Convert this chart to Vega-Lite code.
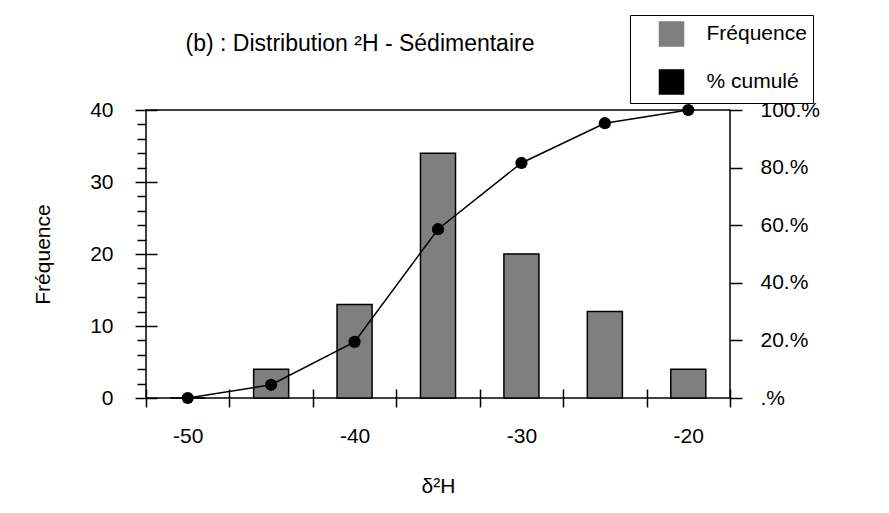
{
  "$schema": "https://vega.github.io/schema/vega-lite/v6.json",
  "width": 584,
  "height": 288,
  "autosize": {"type": "none"},
  "padding": {"left": 146, "top": 110, "right": 159, "bottom": 115},
  "background": "white",
  "config": {
    "font": "Liberation Sans",
    "view": {"stroke": "black", "strokeWidth": 1.5},
    "axis": {
      "labelFontSize": 21,
      "titleFontSize": 21,
      "titleFontWeight": "normal",
      "labelColor": "black",
      "titleColor": "black",
      "tickColor": "black",
      "tickWidth": 1.5,
      "grid": false,
      "domain": false,
      "labelFont": "Liberation Sans",
      "titleFont": "Liberation Sans"
    },
    "legend": {
      "labelFont": "Liberation Sans"
    }
  },
  "title": {
    "text": "(b) : Distribution ²H - Sédimentaire",
    "anchor": "middle",
    "frame": "group",
    "dx": -78,
    "offset": 0,
    "dy": 41,
    "fontSize": 23,
    "fontWeight": "normal",
    "font": "Liberation Sans",
    "color": "black"
  },
  "data": {
    "values": [
      {"bin": -50, "freq": 0, "cum": 0},
      {"bin": -45, "freq": 4, "cum": 0.046},
      {"bin": -40, "freq": 13, "cum": 0.195},
      {"bin": -35, "freq": 34, "cum": 0.586},
      {"bin": -30, "freq": 20, "cum": 0.816},
      {"bin": -25, "freq": 12, "cum": 0.954},
      {"bin": -20, "freq": 4, "cum": 1.0}
    ]
  },
  "encoding": {
    "x": {
      "field": "bin",
      "type": "ordinal",
      "sort": "ascending",
      "scale": {"paddingInner": 0, "paddingOuter": 0},
      "axis": {
        "title": "δ²H",
        "labelAngle": 0,
        "tickBand": "extent",
        "offset": -9,
        "tickSize": 18,
        "labelExpr": "datum.value % 10 === 0 ? datum.label : ''",
        "labelPadding": 18,
        "titlePadding": 29
      }
    }
  },
  "layer": [
    {
      "mark": {"type": "bar", "stroke": "black", "strokeWidth": 1.5, "width": {"band": 0.42}},
      "encoding": {
        "y": {
          "field": "freq",
          "type": "quantitative",
          "scale": {"domain": [0, 40]},
          "axis": {
            "title": "Fréquence",
            "values": [0, 2, 4, 6, 8, 10, 12, 14, 16, 18, 20, 22, 24, 26, 28, 30, 32, 34, 36, 38, 40],
            "offset": -11,
            "tickSize": 22,
            "labelOverlap": false,
            "labelExpr": "datum.value % 10 === 0 ? datum.label : ''",
            "tickDash": {"condition": {"test": "datum.value % 10 !== 0", "value": [0, 11, 9, 100]}, "value": []},
            "labelPadding": 22,
            "titlePadding": 36
          }
        },
        "color": {
          "datum": "Fréquence",
          "type": "nominal",
          "scale": {"domain": ["Fréquence", "% cumulé"], "range": ["#7f7f7f", "black"]},
          "legend": {
            "title": null,
            "orient": "none",
            "legendX": 484,
            "legendY": -95,
            "strokeColor": "black",
            "fillColor": "white",
            "padding": 6,
            "symbolSize": 576,
            "rowPadding": 18,
            "labelOffset": 22,
            "symbolOffset": 22.5,
            "labelFontSize": 21,
            "labelColor": "black",
            "symbolStrokeColor": "black",
            "symbolStrokeWidth": 1.5
          }
        }
      }
    },
    {
      "mark": {"type": "line", "strokeWidth": 1.5, "point": {"filled": true, "size": 150}},
      "encoding": {
        "y": {
          "field": "cum",
          "type": "quantitative",
          "scale": {"domain": [0, 1]},
          "axis": {
            "orient": "right",
            "title": null,
            "values": [0, 0.2, 0.4, 0.6, 0.8, 1],
            "labelExpr": "datum.value === 0 ? '.%' : format(datum.value * 100, 'd') + '.%'",
            "tickSize": 12,
            "labelPadding": 18
          }
        },
        "color": {"datum": "% cumulé", "type": "nominal", "legend": null}
      }
    }
  ],
  "resolve": {"scale": {"y": "independent"}}
}
